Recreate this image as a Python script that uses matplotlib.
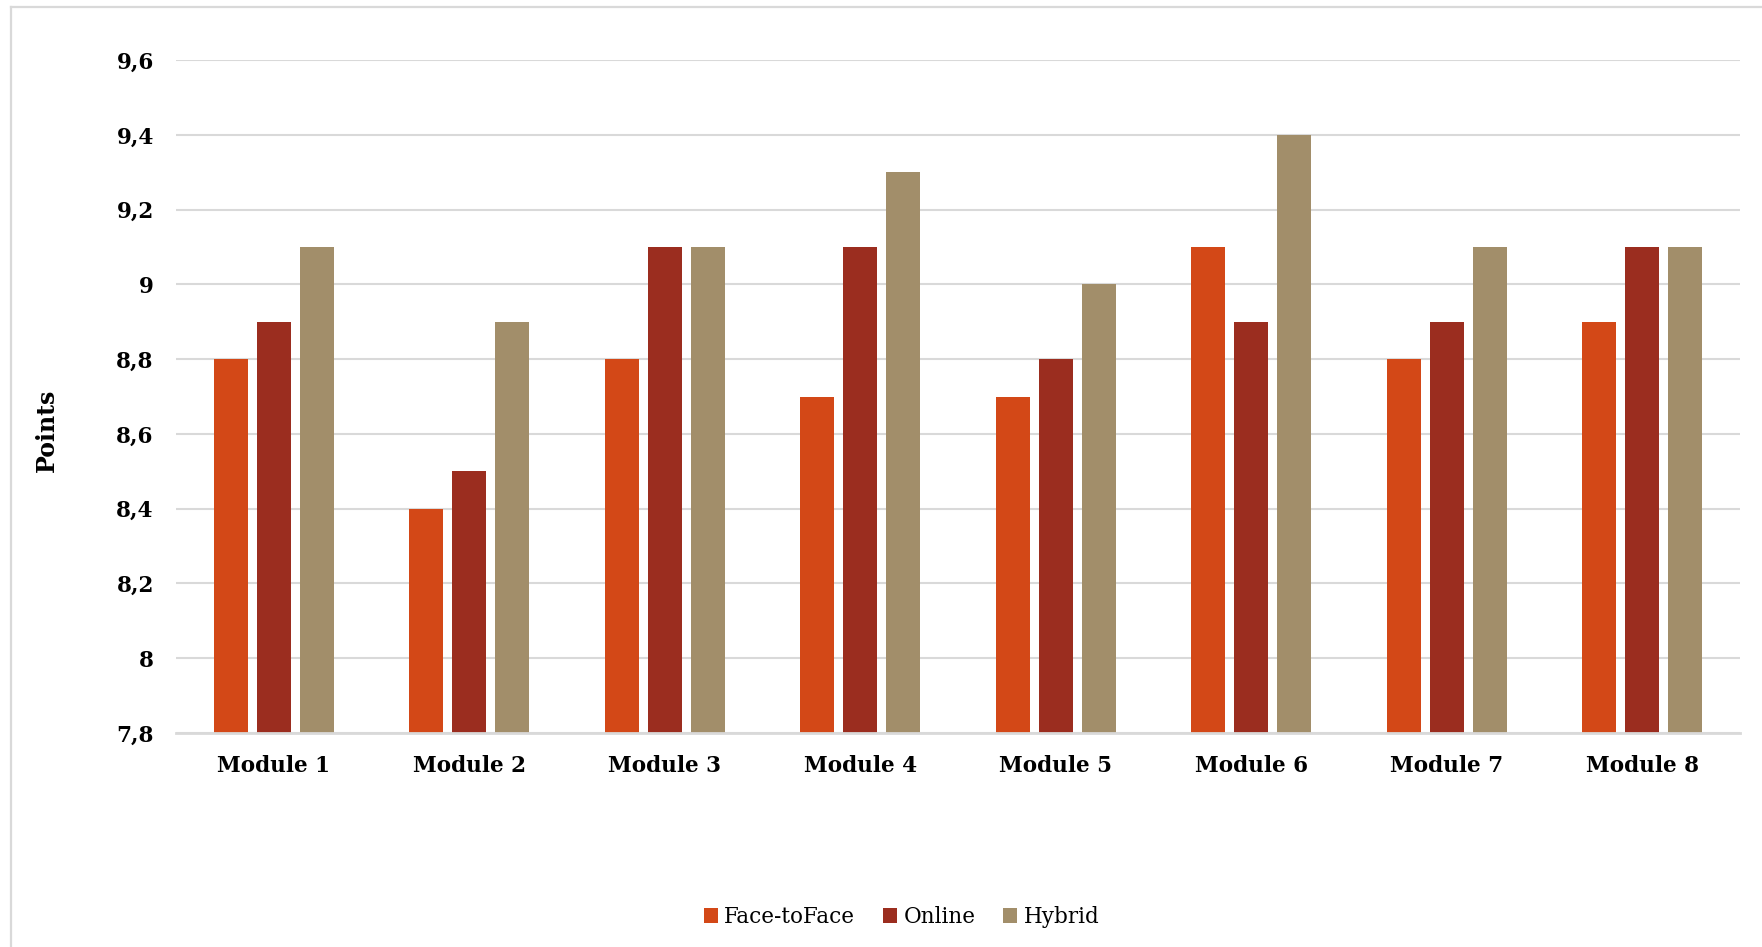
import matplotlib.pyplot as plt
import numpy as np
from matplotlib.lines import Line2D
from matplotlib.ticker import FuncFormatter

modules = ['Module 1', 'Module 2', 'Module 3', 'Module 4',
           'Module 5', 'Module 6', 'Module 7', 'Module 8']
face_to_face = [8.8, 8.4, 8.8, 8.7, 8.7, 9.1, 8.8, 8.9]
online = [8.9, 8.5, 9.1, 9.1, 8.8, 8.9, 8.9, 9.1]
hybrid = [9.1, 8.9, 9.1, 9.3, 9.0, 9.4, 9.1, 9.1]

series = [
    ('Face-toFace', face_to_face, '#D34817'),
    ('Online', online, '#9B2D1F'),
    ('Hybrid', hybrid, '#A28E6A'),
]

plt.rcParams['font.family'] = ['DejaVu Serif']

fig = plt.figure(figsize=(17.62, 9.47), dpi=100)
ax = fig.add_axes([0.0999, 0.226, 0.8876, 0.7106])

# outer chart frame (only left and top edges are visible)
fig.add_artist(Line2D([11 / 1762, 11 / 1762], [0, 1 - 7 / 947], transform=fig.transFigure,
                      color='#d9d9d9', lw=1.6))
fig.add_artist(Line2D([11 / 1762, 1], [1 - 7 / 947, 1 - 7 / 947], transform=fig.transFigure,
                      color='#d9d9d9', lw=1.6))

x = np.arange(len(modules))
width = 0.174
step = 0.22
for i, (name, vals, color) in enumerate(series):
    ax.bar(x + (i - 1) * step, np.array(vals) - 7.8, width, bottom=7.8,
           color=color, label=name, zorder=3)

ax.set_xlim(-0.5, len(modules) - 0.5)
ax.set_ylim(7.8, 9.6)
ax.set_yticks(np.arange(7.8, 9.61, 0.2))
ax.yaxis.set_major_formatter(FuncFormatter(lambda v, p: f'{round(v, 1):g}'.replace('.', ',')))
ax.set_xticks(x)
ax.set_xticklabels(modules)

ax.grid(axis='y', color='#d9d9d9', lw=1.5, zorder=0)
for s in ['top', 'right', 'left']:
    ax.spines[s].set_visible(False)
ax.spines['bottom'].set_color('#d9d9d9')
ax.spines['bottom'].set_linewidth(2)
ax.spines['bottom'].set_zorder(4)
ax.tick_params(axis='both', length=0)
ax.tick_params(axis='y', pad=16, labelsize=15.5)
ax.tick_params(axis='x', pad=16, labelsize=15.5)
for lab in ax.get_xticklabels() + ax.get_yticklabels():
    lab.set_fontweight('bold')

fig.text(47 / 1762, 1 - 430 / 947, 'Points', rotation=90, ha='center', va='center',
         fontsize=17, fontweight='bold')

fig.legend(loc='center', bbox_to_anchor=(0.5117, 0.0317), ncol=3, frameon=False,
           fontsize=15.5, handlelength=0.65, handleheight=0.65, handletextpad=0.3,
           columnspacing=1.3)

fig.savefig('out.png', dpi=100, facecolor='white')
